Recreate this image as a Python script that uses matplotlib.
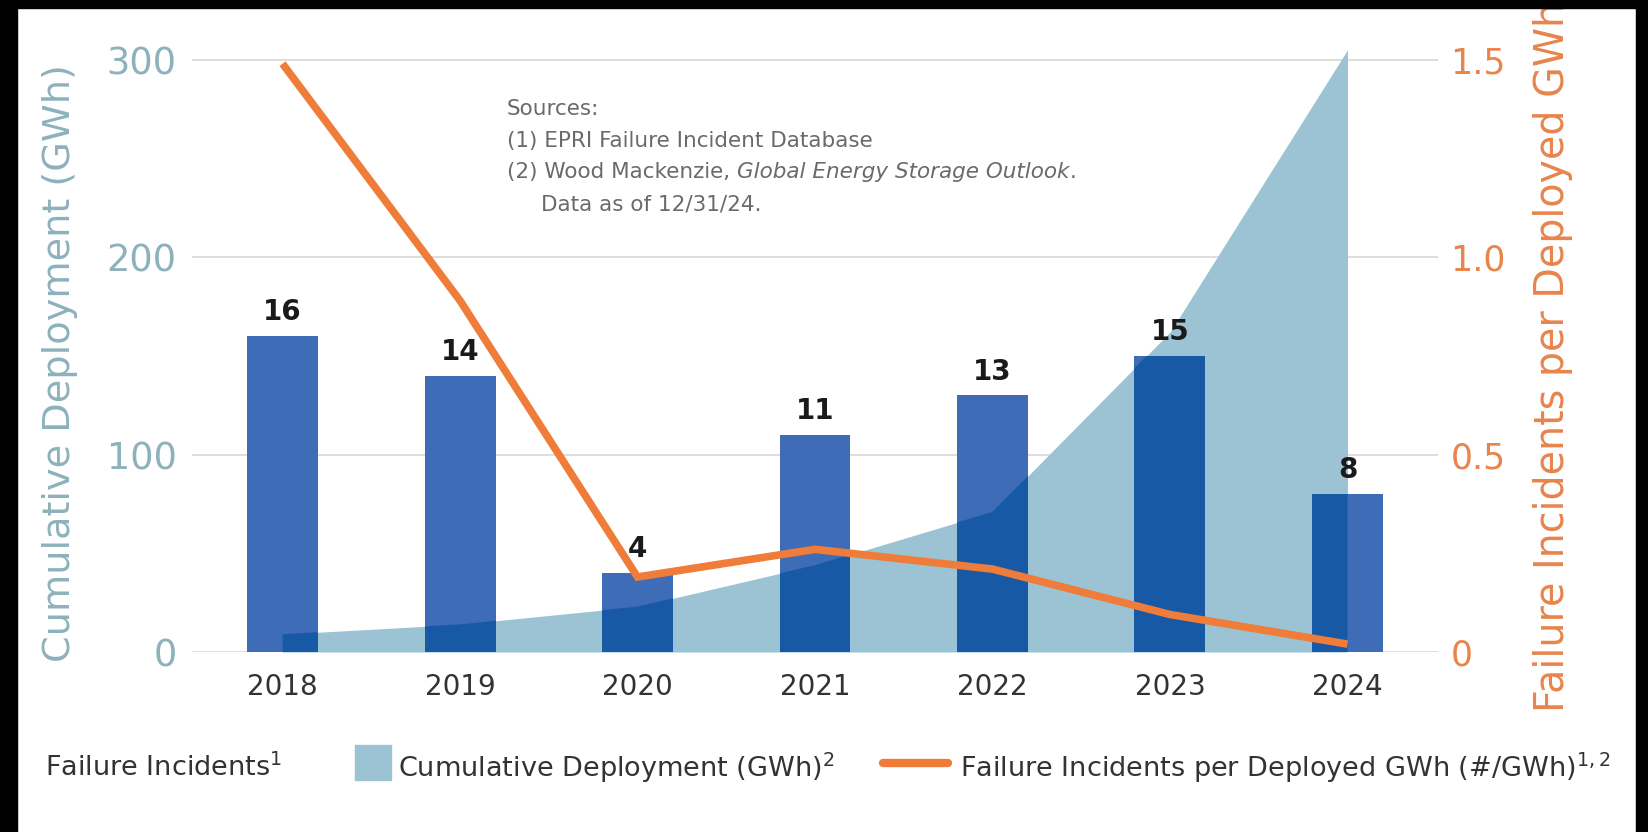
import matplotlib
matplotlib.use("Agg")
import matplotlib.pyplot as plt
from matplotlib.patches import Rectangle
from matplotlib.lines import Line2D

W, H = 1648, 832  # px

plt.rcParams['font.family'] = ['DejaVu Sans']
plt.rcParams['mathtext.fontset'] = 'dejavusans'

years = ["2018", "2019", "2020", "2021", "2022", "2023", "2024"]
incidents = [16, 14, 4, 11, 13, 15, 8]
deployment_gwh = [9, 14, 23, 44, 71, 162, 305]
incidents_per_gwh = [1.49, 0.89, 0.19, 0.26, 0.21, 0.095, 0.02]

left_ticks = [0, 100, 200, 300]
right_ticks = [0, 0.5, 1.0, 1.5]
right_tick_labels = ["0", "0.5", "1.0", "1.5"]

BAR = "#3e6cb6"
BAR_OVER = "#1859a6"
AREA = "#9bc3d4"
ORANGE = "#f07c3a"
LEFT_C = "#8db2bc"
RIGHT_C = "#e8844c"
GRID = "#dedede"
TXT = "#333333"

x = list(range(len(years)))

fig = plt.figure(figsize=(W / 100, H / 100), dpi=100)
fig.patch.set_facecolor("white")

ax = fig.add_axes([192 / W, 1 - 652 / H, (1438 - 192) / W, 612 / H])
ax.set_xlim(-0.51, 6.51)
ax.set_ylim(0, 310)

# cumulative deployment area
area = ax.fill_between(x, deployment_gwh, 0, color=AREA, lw=0, zorder=1)
ax.set_yticks(left_ticks)
ax.set_yticklabels([str(t) for t in left_ticks])
ax.tick_params(axis="y", length=0, pad=11, labelsize=26.5, labelcolor=LEFT_C)
ax.tick_params(axis="x", length=0, pad=15, labelsize=20, labelcolor=TXT)
ax.set_xticks(x)
ax.set_xticklabels(years)
ax.grid(axis="y", color=GRID, lw=1.4)
ax.set_axisbelow(True)
for s in ax.spines.values():
    s.set_visible(False)

# failure incidents bars (own hidden scale, 16 sits at 160 of the left axis)
axb = ax.twinx()
axb.set_ylim(0, 31)
axb.axis("off")
bars = axb.bar(x, incidents, width=0.4, color=BAR, zorder=2)
over = axb.bar(x, incidents, width=0.4, color=BAR_OVER, zorder=3)
clip = area.get_paths()[0]
for p in over:
    p.set_clip_path(clip, ax.transData)
axb.bar_label(bars, padding=7, fontsize=20, fontweight="bold", color="#1a1a1a")

# failure incidents per GWh line
axr = ax.twinx()
axr.set_ylim(0, 1.55)
axr.plot(x, incidents_per_gwh, color=ORANGE, lw=5.5, solid_capstyle="butt",
         solid_joinstyle="miter", zorder=5)
axr.set_yticks(right_ticks)
axr.set_yticklabels(right_tick_labels)
axr.tick_params(axis="y", length=0, pad=9, labelsize=25, labelcolor=RIGHT_C)
for s in axr.spines.values():
    s.set_visible(False)

# axis titles
fig.text(60 / W, 1 - 363 / H, "Cumulative Deployment (GWh)", rotation=90,
         ha="center", va="center", fontsize=27.5, color=LEFT_C)
fig.text(1553 / W, 1 - 712 / H, "Failure Incidents per Deployed GWh", rotation=90,
         ha="center", va="bottom", fontsize=28.5, color=RIGHT_C)

# sources note
src_c = "#6a6a6a"
fig.text(507 / W, 1 - 115 / H, "Sources:", fontsize=15.5, color=src_c)
fig.text(507 / W, 1 - 147 / H, "(1) EPRI Failure Incident Database", fontsize=15.5, color=src_c)
t2 = fig.text(507 / W, 1 - 178 / H, "(2) Wood Mackenzie, ", fontsize=15.5, color=src_c)
t3 = ax.annotate("Global Energy Storage Outlook", xy=(1, 0), xycoords=t2, va="bottom",
                 fontsize=15.5, color=src_c, style="italic", annotation_clip=False)
ax.annotate(".", xy=(1, 0), xycoords=t3, va="bottom", fontsize=15.5, color=src_c,
            annotation_clip=False)
fig.text(541 / W, 1 - 210 / H, "Data as of 12/31/24.", fontsize=15.5, color=src_c)

# legend row
ly = 1 - 763 / H
ty = 1 - 768 / H
fig.text(45 / W, ty, "Failure Incidents$^1$", fontsize=19.5, color=TXT, va="center")
fig.patches.append(Rectangle((355 / W, 1 - 780 / H), 36 / W, 35 / H,
                             transform=fig.transFigure, color=AREA, figure=fig))
fig.text(398 / W, ty, "Cumulative Deployment (GWh)$^2$", fontsize=19.5, color=TXT,
         va="center")
fig.lines.append(Line2D([883 / W, 948 / W], [ly, ly], transform=fig.transFigure,
                        color=ORANGE, lw=6, solid_capstyle="round", figure=fig))
fig.text(960 / W, ty, "Failure Incidents per Deployed GWh (#/GWh)$^{1,2}$", fontsize=19.5,
         color=TXT, va="center")

# black frame edges of the source image
for (bx, by, bw, bh) in [(0, 0, 17, H), (0, 0, W, 8), (1636, 0, 12, H)]:
    fig.patches.append(Rectangle((bx / W, 1 - (by + bh) / H), bw / W, bh / H,
                                 transform=fig.transFigure, color="black",
                                 zorder=10, figure=fig))

fig.savefig("out.png", dpi=100)
